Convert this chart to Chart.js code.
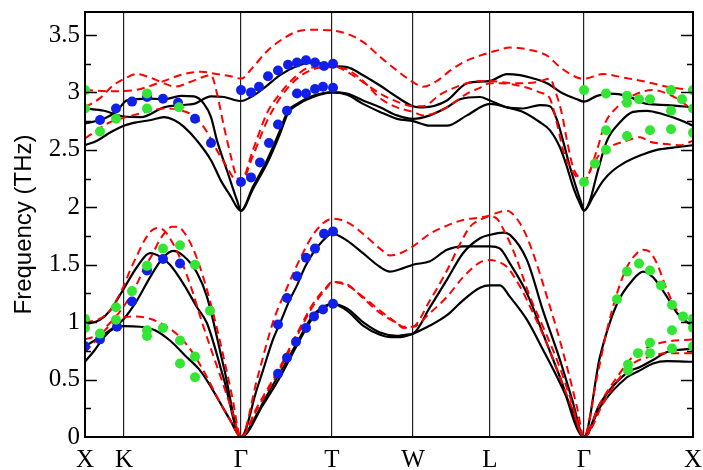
<!DOCTYPE html>
<html>
<head>
<meta charset="utf-8">
<script src="https://cdn.jsdelivr.net/npm/chart.js@4.4.0/dist/chart.umd.min.js"></script>
<style>
  html, body { margin: 0; padding: 0; background: #fff; }
</style>
</head>
<body>
<canvas id="phonons" width="703" height="470"></canvas>
<script>
// Puntos de alta simetría a lo largo del camino (distancia acumulada)
const kLabels = ["X", "K", "Γ", "T", "W", "L", "Γ", "X"];
const kPoints = [0, 39, 156, 247, 328, 405, 499, 608];
const freqTicks = [0, 0.5, 1, 1.5, 2, 2.5, 3, 3.5];

// Ramas calculadas (línea continua) -> [distancia, frecuencia THz]
const solidAcoustic1 = [
  [0, 0.655], [10, 0.76], [20, 0.88], [30, 0.95], [39, 0.965], [55, 0.96], [70, 0.93], [85, 0.84],
  [100, 0.71], [115, 0.58], [125, 0.45], [135, 0.30], [145, 0.15], [156, 0],
  [172, 0.20], [178, 0.30], [195, 0.56], [212, 0.82], [228, 1.06], [240, 1.14], [247, 1.16],
  [262, 1.10], [278, 0.97], [295, 0.89], [305, 0.87], [315, 0.87], [328, 0.90],
  [345, 0.97], [362, 1.06], [378, 1.19], [395, 1.30], [405, 1.32], [415, 1.32],
  [425, 1.22], [442, 1.02], [458, 0.76], [475, 0.47], [487, 0.24], [499, 0],
  [515, 0.26], [542, 0.52], [555, 0.58], [568, 0.64], [582, 0.66], [608, 0.655]
];
const solidAcoustic2 = [
  [0, 0.79], [15, 0.87], [25, 0.93], [38, 1.02], [52, 1.19], [65, 1.39], [78, 1.56], [88, 1.62],
  [98, 1.58], [112, 1.43], [122, 1.22], [139, 0.60], [156, 0],
  [178, 0.28], [195, 0.52], [212, 0.80], [228, 1.04], [240, 1.13], [247, 1.16],
  [262, 1.12], [278, 1.00], [295, 0.91], [312, 0.88], [320, 0.89], [328, 0.90],
  [345, 1.13], [362, 1.37], [378, 1.60], [395, 1.73], [405, 1.76],
  [418, 1.78], [425, 1.76], [442, 1.54], [458, 1.10], [475, 0.67], [487, 0.33], [499, 0],
  [515, 0.29], [542, 0.56], [555, 0.61], [568, 0.67], [582, 0.74], [608, 0.77]
];
const solidAcoustic3 = [
  [0, 0.98], [15, 1.02], [25, 1.10], [38, 1.28], [52, 1.48], [65, 1.60], [75, 1.57], [85, 1.50],
  [98, 1.34], [112, 1.13], [122, 0.99], [139, 0.50], [156, 0],
  [172, 0.42], [178, 0.58], [188, 0.85], [195, 0.99], [205, 1.20], [212, 1.32], [220, 1.48],
  [228, 1.60], [238, 1.71], [247, 1.77],
  [262, 1.71], [278, 1.60], [295, 1.48], [305, 1.44], [315, 1.46], [328, 1.50],
  [345, 1.53], [362, 1.63], [378, 1.66], [405, 1.66],
  [415, 1.64], [425, 1.51], [442, 1.25], [458, 0.90], [475, 0.52], [499, 0],
  [515, 0.70], [532, 1.16], [548, 1.37], [558, 1.44], [568, 1.39], [582, 1.22], [592, 1.08],
  [602, 1.00], [608, 0.97]
];
const solidOptic1 = [
  [0, 2.86], [19, 2.84], [39, 2.79], [56, 2.785], [79, 2.87], [96, 2.89], [109, 2.90],
  [126, 2.965], [139, 2.96], [156, 2.925],
  [168, 2.97], [182, 3.06], [195, 3.15], [212, 3.23], [225, 3.26], [238, 3.25], [247, 3.23],
  [262, 3.22], [278, 3.15], [295, 3.06], [312, 2.96], [328, 2.88], [338, 2.87], [362, 2.93],
  [382, 3.08], [405, 3.10], [422, 3.16], [435, 3.15], [445, 3.13], [462, 3.08], [478, 2.99],
  [492, 2.94], [499, 2.92],
  [512, 2.97], [525, 2.99], [542, 2.97], [562, 2.90], [582, 2.89], [608, 2.87]
];
const solidOptic2 = [
  [0, 2.73], [19, 2.77], [32, 2.84], [42, 2.93], [66, 2.945], [79, 2.94], [96, 2.97],
  [109, 2.965], [119, 2.90], [126, 2.785], [132, 2.58], [142, 2.32], [152, 2.06], [156, 1.97],
  [168, 2.18], [182, 2.41], [195, 2.67], [203, 2.84], [212, 2.90], [228, 2.97], [247, 3.00],
  [262, 2.99], [278, 2.93], [295, 2.87], [312, 2.80], [328, 2.77], [345, 2.80], [362, 2.87],
  [375, 2.94], [395, 2.96], [405, 2.93],
  [422, 2.87], [438, 2.86], [455, 2.89], [465, 2.88], [472, 2.76], [478, 2.58], [485, 2.35],
  [492, 2.15], [497, 2.02], [499, 1.97],
  [505, 2.06], [512, 2.29], [522, 2.58], [535, 2.74], [548, 2.83], [562, 2.84], [578, 2.81],
  [595, 2.76], [608, 2.71]
];
const solidOptic3 = [
  [0, 2.54], [12, 2.58], [26, 2.655], [39, 2.71], [52, 2.74], [66, 2.76], [79, 2.785],
  [89, 2.76], [99, 2.70], [112, 2.58], [126, 2.41], [136, 2.23], [146, 2.09], [152, 2.00], [156, 1.97],
  [168, 2.16], [182, 2.38], [195, 2.64], [203, 2.82], [212, 2.89], [228, 2.96], [247, 3.00],
  [262, 2.98], [278, 2.90], [295, 2.83], [312, 2.77], [328, 2.75], [345, 2.71], [362, 2.71],
  [382, 2.80], [405, 2.90],
  [422, 2.87], [438, 2.83], [455, 2.74], [465, 2.67], [475, 2.52], [482, 2.35], [488, 2.18],
  [495, 2.03], [499, 1.97],
  [508, 2.09], [518, 2.23], [528, 2.32], [538, 2.38], [555, 2.45], [572, 2.50], [588, 2.52], [608, 2.54]
];

// Ramas calculadas con el segundo modelo (línea discontinua)
const dashedAcoustic1 = [
  [0, 1.00], [15, 1.03], [25, 1.10], [32, 1.20], [39, 1.32], [45, 1.45], [52, 1.58], [60, 1.72],
  [67, 1.80], [73, 1.82], [80, 1.79], [87, 1.70], [97, 1.52], [107, 1.28], [117, 1.00],
  [127, 0.74], [137, 0.49], [147, 0.23], [156, 0],
  [172, 0.50], [188, 1.00], [202, 1.30], [215, 1.55], [228, 1.76], [238, 1.86], [247, 1.90],
  [262, 1.87], [278, 1.77], [295, 1.64], [305, 1.58], [315, 1.60], [328, 1.66], [345, 1.77],
  [362, 1.84], [378, 1.89], [395, 1.91], [405, 1.93], [415, 1.96], [422, 1.97], [428, 1.94],
  [435, 1.86], [442, 1.74], [452, 1.50], [462, 1.22], [472, 0.93], [482, 0.61], [492, 0.26], [499, 0],
  [512, 0.52], [522, 0.93], [532, 1.25], [542, 1.48], [552, 1.60], [558, 1.63], [565, 1.61],
  [572, 1.51], [582, 1.28], [592, 1.10], [602, 1.03], [608, 1.00]
];
const dashedAcoustic2 = [
  [0, 0.85], [10, 0.88], [20, 0.95], [30, 1.04], [39, 1.14], [50, 1.30], [60, 1.48], [68, 1.60],
  [75, 1.72], [82, 1.80], [87, 1.83], [93, 1.83], [100, 1.77], [107, 1.66], [115, 1.48],
  [123, 1.25], [131, 0.98], [139, 0.68], [147, 0.36], [156, 0],
  [172, 0.26], [178, 0.35], [195, 0.61], [212, 0.90], [228, 1.16], [242, 1.31], [247, 1.35],
  [262, 1.32], [278, 1.22], [295, 1.10], [312, 0.99], [318, 0.95], [328, 0.96],
  [345, 1.19], [362, 1.45], [375, 1.68], [385, 1.83], [395, 1.89], [405, 1.92], [412, 1.90],
  [420, 1.78], [427, 1.65], [432, 1.54], [445, 1.22], [458, 0.96], [472, 0.67], [485, 0.35], [499, 0],
  [515, 0.29], [532, 0.52], [548, 0.70], [565, 0.79], [582, 0.83], [608, 0.85]
];
const dashedAcoustic3 = [
  [0, 0.74], [10, 0.83], [20, 0.93], [30, 1.01], [39, 1.04], [50, 1.05], [65, 1.03], [80, 0.97],
  [95, 0.87], [108, 0.73], [122, 0.52], [135, 0.30], [147, 0.12], [156, 0],
  [172, 0.24], [178, 0.33], [195, 0.59], [212, 0.88], [228, 1.14], [242, 1.30], [247, 1.35],
  [262, 1.33], [278, 1.21], [295, 1.08], [312, 0.99], [318, 0.96], [328, 0.96],
  [345, 1.08], [362, 1.22], [378, 1.39], [395, 1.52], [405, 1.54], [415, 1.52], [422, 1.48],
  [435, 1.31], [448, 1.08], [462, 0.81], [475, 0.52], [488, 0.23], [499, 0],
  [518, 0.29], [535, 0.52], [548, 0.64], [565, 0.70], [582, 0.73], [608, 0.73]
];
const dashedOptic1 = [
  [0, 3.02], [25, 3.01], [50, 3.02], [76, 3.09], [99, 3.16], [116, 3.18], [132, 3.16],
  [146, 3.14], [156, 3.12],
  [168, 3.22], [181, 3.35], [195, 3.45], [212, 3.53], [228, 3.545], [247, 3.54], [262, 3.51],
  [278, 3.44], [295, 3.31], [312, 3.19], [328, 3.09], [338, 3.05], [352, 3.10], [365, 3.19],
  [380, 3.27], [395, 3.32], [410, 3.36], [425, 3.39], [445, 3.37], [462, 3.32], [475, 3.22],
  [492, 3.13], [499, 3.12],
  [518, 3.16], [538, 3.13], [562, 3.09], [582, 3.05], [608, 3.02]
];
const dashedOptic2 = [
  [0, 2.87], [15, 2.95], [28, 3.06], [42, 3.13], [52, 3.16], [65, 3.13], [76, 3.09], [90, 3.05],
  [105, 3.09], [120, 3.14], [126, 3.15], [132, 2.99], [139, 2.70], [146, 2.44], [151, 2.28], [156, 2.23],
  [168, 2.50], [182, 2.82], [195, 2.99], [212, 3.15], [222, 3.21], [235, 3.22], [247, 3.23],
  [262, 3.18], [278, 3.09], [295, 2.99], [312, 2.92], [328, 2.88], [338, 2.88], [355, 2.98],
  [375, 3.06], [395, 3.10], [405, 3.10], [428, 3.08], [452, 3.09], [465, 3.12], [470, 3.02],
  [477, 2.81], [482, 2.58], [488, 2.35], [495, 2.25], [499, 2.23],
  [512, 2.50], [520, 2.73], [532, 2.87], [545, 2.96], [568, 3.02], [582, 2.99], [595, 2.93], [608, 2.84]
];
const dashedOptic3 = [
  [0, 2.60], [12, 2.67], [25, 2.74], [39, 2.78], [52, 2.81], [65, 2.84], [79, 2.86], [92, 2.85],
  [108, 2.80], [117, 2.72], [125, 2.61], [133, 2.48], [142, 2.35], [148, 2.26], [152, 2.23], [156, 2.22],
  [168, 2.45], [182, 2.75], [195, 2.95], [212, 3.12], [228, 3.20], [247, 3.22],
  [262, 3.20], [278, 3.10], [295, 2.95], [312, 2.87], [328, 2.83], [338, 2.80], [362, 2.87],
  [382, 2.99], [395, 3.04], [405, 3.08], [415, 3.08], [438, 3.05], [455, 3.00], [465, 2.945],
  [472, 2.73], [478, 2.50], [485, 2.35], [493, 2.25], [499, 2.23],
  [508, 2.37], [518, 2.50], [528, 2.54], [542, 2.58], [555, 2.61], [565, 2.57], [582, 2.55],
  [595, 2.54], [608, 2.58]
];

// Datos experimentales
const blueDots = [
  [0, 0.79], [15, 0.85], [32, 0.96], [47, 1.18], [62, 1.45], [78, 1.55], [95, 1.51],
  [193, 0.55], [202, 0.69], [211, 0.83], [221, 0.95], [229, 1.05], [238, 1.11], [248, 1.16],
  [193, 0.98], [202, 1.21], [212, 1.40], [221, 1.56], [230, 1.64], [239, 1.77], [248, 1.79],
  [15, 2.76], [31, 2.86], [47, 2.92], [62, 2.96], [78, 2.945], [93, 2.91], [110, 2.77], [126, 2.56],
  [156, 2.22], [156, 3.02],
  [166, 3.00], [174, 3.05], [183, 3.14], [193, 3.19], [203, 3.24], [212, 3.26], [221, 3.28],
  [230, 3.26], [239, 3.23], [248, 3.25],
  [166, 2.26], [175, 2.39], [184, 2.56], [193, 2.72], [202, 2.84], [212, 2.99], [221, 2.99],
  [230, 3.03], [238, 3.05], [248, 3.04]
];
const greenDots = [
  [0, 1.03], [0, 0.95], [15, 0.90], [31, 1.13], [31, 1.02], [47, 1.27], [62, 1.49], [62, 0.93],
  [62, 0.88], [78, 1.64], [78, 0.95], [95, 1.67], [95, 0.84], [95, 0.64], [110, 1.50], [110, 0.70],
  [110, 0.52], [125, 1.10],
  [0, 3.02], [0, 2.86], [15, 2.66], [31, 2.77], [62, 2.99], [62, 2.86], [94, 2.87],
  [499, 3.02], [521, 2.99], [542, 2.97], [542, 2.91], [554, 2.94], [565, 2.94], [586, 3.02],
  [586, 2.84], [597, 2.94], [608, 3.02], [608, 2.86], [521, 2.67], [542, 2.62], [565, 2.67],
  [586, 2.68], [608, 2.65], [521, 2.50], [510, 2.38], [499, 2.22],
  [532, 1.20], [542, 1.44], [554, 1.51], [565, 1.45], [576, 1.32], [587, 1.15], [598, 1.05],
  [608, 1.03], [608, 0.95], [587, 0.93], [608, 0.79], [587, 0.77], [565, 0.82], [565, 0.73],
  [553, 0.73], [543, 0.63], [543, 0.58]
];

const serif = "'Liberation Serif', 'Times New Roman', 'DejaVu Serif', serif";
const sans = "'Liberation Sans', Arial, 'DejaVu Sans', sans-serif";

const toXY = (arr) => arr.map(([x, y]) => ({ x: x, y: y }));

function dotSet(arr, color) {
  return {
    data: toXY(arr),
    showLine: false,
    pointRadius: 5,
    pointBackgroundColor: color,
    pointBorderWidth: 0,
  };
}

function lineSet(arr, dashed) {
  return {
    data: toXY(arr),
    showLine: true,
    pointRadius: 0,
    borderColor: dashed ? "#ff0000" : "#000000",
    borderWidth: dashed ? 2 : 2.2,
    borderDash: dashed ? [8, 5] : [],
    cubicInterpolationMode: "monotone",
  };
}

// Marco completo y marcas de escala hacia dentro (izquierda y derecha)
const framePlugin = {
  id: "frame",
  afterDatasetsDraw(chart) {
    const { ctx, chartArea: a, scales } = chart;
    ctx.save();
    ctx.strokeStyle = "#000";
    ctx.lineWidth = 1.5;
    for (let i = 1; i <= 14; i++) {
      const y = Math.round(scales.y.getPixelForValue(i * 0.25)) + 0.5;
      const len = i % 2 === 0 ? 12 : 6;
      ctx.beginPath();
      ctx.moveTo(a.left, y);
      ctx.lineTo(a.left + len, y);
      ctx.moveTo(a.right, y);
      ctx.lineTo(a.right - len, y);
      ctx.stroke();
    }
    ctx.lineWidth = 2;
    ctx.strokeRect(a.left, a.top, a.right - a.left, a.bottom - a.top);
    ctx.restore();
  },
};

const datasets = [
  dotSet(greenDots, "#33e633"),
  dotSet(blueDots, "#1020e8"),
  ...[dashedAcoustic1, dashedAcoustic2, dashedAcoustic3, dashedOptic1, dashedOptic2, dashedOptic3]
    .map((d) => lineSet(d, true)),
  ...[solidAcoustic1, solidAcoustic2, solidAcoustic3, solidOptic1, solidOptic2, solidOptic3]
    .map((d) => lineSet(d, false)),
];

new Chart(document.getElementById("phonons"), {
  type: "scatter",
  data: { datasets: datasets },
  options: {
    responsive: false,
    animation: false,
    layout: { padding: { top: 12, right: 10, left: 0, bottom: 0 } },
    plugins: { legend: { display: false }, tooltip: { enabled: false } },
    scales: {
      x: {
        type: "linear",
        min: 0,
        max: 608,
        afterBuildTicks: (scale) => {
          scale.ticks = kPoints.map((v) => ({ value: v }));
        },
        afterFit: (scale) => {
          // las etiquetas de los extremos no deben encoger el área
          scale.height = 33;
          scale.paddingLeft = 0;
          scale.paddingRight = 0;
        },
        ticks: {
          autoSkip: false,
          maxRotation: 0,
          padding: 11,
          color: "#000",
          font: { family: serif, size: 25, lineHeight: 1 },
          callback: (value, index) => kLabels[index],
        },
        grid: { color: "#222", lineWidth: 1.2, drawTicks: false },
        border: { color: "#000", width: 2 },
      },
      y: {
        min: 0,
        max: 3.7,
        afterBuildTicks: (scale) => {
          scale.ticks = freqTicks.map((v) => ({ value: v }));
        },
        afterFit: (scale) => {
          scale.width = 85;
          scale.paddingTop = 0;
          scale.paddingBottom = 0;
        },
        ticks: {
          padding: 5,
          color: "#000",
          font: { family: serif, size: 25, lineHeight: 1 },
          callback: (value) => String(value),
        },
        grid: { display: false, drawTicks: false },
        border: { color: "#000", width: 2 },
        title: {
          display: true,
          text: "Frequency (THz)",
          color: "#000",
          font: { family: sans, size: 24 },
          padding: { top: 10, bottom: 0 },
        },
      },
    },
  },
  plugins: [framePlugin],
});
</script>
</body>
</html>
